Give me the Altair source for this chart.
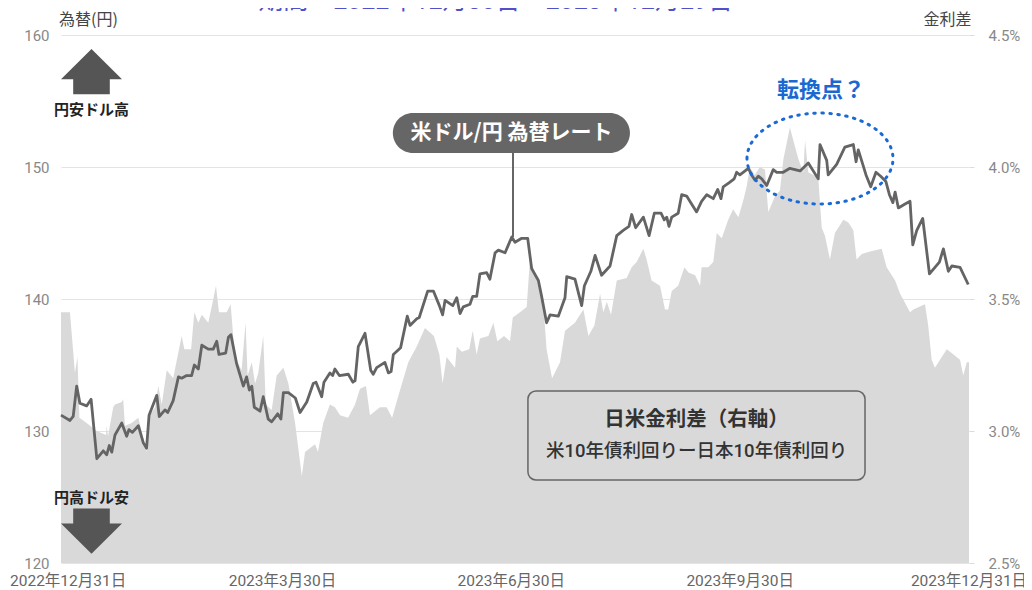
import altair as alt
import pandas as pd

# ---------------- data ----------------
# USD/JPY rate: days after 2022-12-31 and yen values
fx_days = [0, 3.6, 4.9, 6.3, 7.6, 10.3, 12.1, 14.4, 17.0, 18.4,
           19.4, 20.4, 21.7, 24.4, 26.4, 27.3, 28.7, 31.1, 33.1, 34.4,
           35.4, 38.5, 39.5, 41.8, 42.9, 45.1, 47.2, 48.5, 50.5, 52.5,
           53.6, 55.2, 56.6, 59.2, 61.2, 62.6, 63.5, 66.2, 67.3, 68.3,
           70.6, 73.3, 74.6, 75.7, 76.7, 77.7, 80.0, 81.3, 83.3, 84.7,
           87.1, 88.4, 89.4, 91.4, 94.2, 96.1, 98.8, 101.4, 102.5, 104.8,
           105.7, 108.1, 109.2, 110.1, 111.9, 115.5, 117.3, 118.2, 119.5, 122.2,
           124.5, 125.5, 126.9, 130.2, 131.6, 132.7, 133.6, 136.5, 139.2, 140.3,
           143.0, 144.0, 147.4, 149.7, 152.1, 153.4, 154.4, 157.5, 159.1, 160.4,
           161.7, 164.4, 165.5, 167.1, 168.4, 171.1, 172.4, 174.5, 175.8, 178.5,
           181.2, 182.5, 185.2, 187.6, 189.2, 191.9, 193.2, 195.2, 196.6, 199.9,
           202.6, 203.3, 206.6, 209.3, 210.4, 213.0, 214.7, 217.3, 220.7, 223.4,
           226.0, 228.3, 229.4, 231.0, 234.1, 236.4, 238.5, 241.2, 242.5, 243.5,
           244.4, 245.5, 248.1, 249.5, 251.5, 252.8, 255.5, 257.5, 259.6, 262.2,
           264.0, 265.3, 266.2, 268.5, 270.6, 271.6, 272.9, 276.3, 277.6, 279.0,
           280.3, 281.7, 283.7, 286.3, 287.7, 290.3, 293.0, 297.1, 300.4, 304.4,
           305.1, 307.8, 308.4, 311.8, 315.1, 318.5, 319.6, 320.5, 322.3, 323.6,
           325.5, 327.6, 329.5, 331.6, 333.0, 334.4, 335.3, 336.6, 339.3, 341.3,
           342.4, 344.0, 346.4, 349.1, 353.1, 354.7, 356.7, 358.1, 361.4, 364.7]
fx_rate = [131.2, 130.8, 131.1, 133.4, 132.1, 131.9, 132.4, 127.9, 128.5, 128.2,
           128.9, 128.4, 129.7, 130.6, 129.6, 130.1, 129.9, 130.4, 129.1, 128.7,
           131.2, 132.7, 131.1, 131.6, 131.4, 132.3, 134.1, 134.0, 134.2, 134.2,
           135.0, 134.7, 136.5, 136.2, 136.2, 136.8, 135.8, 135.9, 137.1, 137.3,
           135.1, 133.4, 134.1, 133.1, 133.4, 131.8, 131.5, 132.6, 130.9, 130.7,
           131.3, 130.9, 132.9, 132.9, 132.5, 131.4, 132.2, 133.6, 133.7, 132.6,
           133.7, 134.4, 134.2, 134.7, 134.2, 134.3, 133.7, 133.8, 136.4, 137.4,
           134.6, 134.3, 134.8, 135.2, 134.4, 134.5, 135.8, 136.3, 138.7, 138.0,
           138.5, 138.6, 140.6, 140.6, 139.5, 138.8, 139.9, 139.5, 140.1, 138.9,
           139.4, 139.6, 140.2, 140.2, 141.9, 142.0, 141.5, 143.5, 143.7, 143.5,
           144.7, 144.3, 144.6, 144.6, 142.3, 141.4, 140.2, 138.2, 138.8, 138.7,
           140.1, 141.7, 141.5, 139.5, 141.0, 142.1, 143.3, 141.8, 142.5, 144.8,
           145.2, 145.5, 146.4, 145.4, 146.2, 144.8, 146.5, 146.5, 146.0, 146.2,
           145.5, 146.2, 146.5, 147.9, 147.8, 147.4, 146.6, 147.4, 147.9, 147.6,
           148.3, 147.6, 148.5, 148.8, 149.1, 149.6, 149.4, 149.9, 149.4, 149.0,
           149.3, 149.1, 148.6, 149.8, 149.6, 149.6, 149.9, 149.7, 150.3, 149.1,
           151.7, 150.5, 149.4, 150.2, 151.5, 151.7, 150.4, 151.3, 150.2, 149.4,
           148.5, 149.6, 149.3, 148.9, 147.9, 147.3, 148.1, 146.9, 147.2, 147.4,
           144.1, 145.2, 146.1, 141.9, 142.8, 143.8, 142.1, 142.5, 142.4, 141.1]

# US-Japan 10y yield spread (%): days after 2022-12-31 and values
spread_days = [0, 3.6, 5.6, 6.6, 7.4, 10.3, 14.4, 18.1, 18.4, 18.9,
               21.0, 21.7, 24.4, 25.0, 25.7, 28.4, 31.1, 33.1, 34.4, 35.1,
               37.8, 39.1, 40.5, 42.5, 45.1, 48.5, 49.6, 52.3, 53.6, 55.2,
               56.6, 59.2, 61.0, 62.3, 63.5, 66.6, 68.2, 69.9, 72.6, 74.2,
               75.0, 76.7, 78.0, 79.3, 81.3, 82.3, 84.7, 86.7, 89.4, 91.4,
               94.1, 96.8, 98.1, 102.1, 103.3, 105.4, 108.1, 110.1, 112.2, 115.4,
               118.2, 120.2, 122.6, 124.2, 128.2, 130.9, 133.1, 135.5, 139.6, 143.0,
               146.3, 149.9, 152.1, 153.4, 155.0, 158.4, 159.1, 161.1, 164.1, 165.5,
               167.1, 168.4, 171.8, 173.8, 175.4, 178.1, 180.5, 181.6, 184.5, 187.2,
               188.5, 191.9, 193.9, 195.2, 197.4, 200.6, 202.6, 206.6, 207.9, 210.0,
               212.0, 214.4, 216.7, 218.0, 219.4, 221.1, 223.4, 227.4, 229.4, 231.4,
               234.1, 235.4, 237.4, 240.8, 242.8, 244.1, 245.5, 248.1, 250.6, 252.2,
               254.9, 256.9, 257.5, 260.2, 262.2, 263.6, 265.6, 268.2, 270.2, 272.3,
               274.3, 275.6, 276.9, 278.9, 280.9, 283.0, 284.3, 285.7, 287.0, 289.0,
               290.4, 291.7, 293.0, 294.4, 296.4, 298.4, 299.1, 300.4, 304.4, 305.8,
               307.1, 309.1, 311.1, 314.5, 316.5, 318.5, 319.8, 321.9, 325.2, 329.9,
               331.9, 335.3, 337.3, 341.3, 342.6, 347.3, 348.6, 350.0, 351.3, 354.7,
               356.1, 361.4, 362.7, 364.1, 365.0]
spread_pct = [3.45, 3.45, 3.22, 3.28, 3.05, 3.03, 3.00, 2.985, 3.02, 2.98,
              3.09, 3.10, 3.11, 3.12, 3.02, 3.03, 3.05, 2.97, 2.92, 3.05,
              3.09, 3.17, 3.10, 3.23, 3.20, 3.36, 3.31, 3.31, 3.45, 3.41,
              3.44, 3.41, 3.49, 3.55, 3.45, 3.45, 3.48, 3.28, 3.23, 3.41,
              3.21, 3.26, 3.18, 3.22, 3.36, 3.10, 3.08, 3.21, 3.24, 3.18,
              3.03, 2.83, 2.92, 2.95, 2.92, 3.03, 3.10, 3.09, 3.06, 3.05,
              3.10, 3.16, 3.17, 3.06, 3.09, 3.09, 3.05, 3.13, 3.26, 3.32,
              3.39, 3.36, 3.29, 3.18, 3.28, 3.24, 3.32, 3.30, 3.31, 3.38,
              3.29, 3.35, 3.36, 3.41, 3.34, 3.36, 3.34, 3.43, 3.45, 3.47,
              3.65, 3.57, 3.48, 3.31, 3.20, 3.26, 3.38, 3.41, 3.43, 3.46,
              3.36, 3.40, 3.52, 3.45, 3.49, 3.44, 3.57, 3.58, 3.62, 3.64,
              3.69, 3.65, 3.57, 3.55, 3.46, 3.46, 3.53, 3.55, 3.62, 3.60,
              3.59, 3.55, 3.62, 3.62, 3.64, 3.75, 3.73, 3.80, 3.84, 3.81,
              3.875, 3.925, 4.00, 3.97, 4.00, 3.99, 3.83, 3.86, 3.89, 3.91,
              4.03, 4.09, 4.15, 4.10, 4.03, 3.98, 4.10, 3.98, 3.96, 3.77,
              3.74, 3.65, 3.75, 3.80, 3.79, 3.76, 3.65, 3.67, 3.68, 3.69,
              3.62, 3.57, 3.52, 3.45, 3.46, 3.48, 3.40, 3.27, 3.24, 3.29,
              3.31, 3.27, 3.21, 3.26, 3.26]

x_tick_dates = ["2022-12-31", "2023-03-30", "2023-06-30", "2023-09-30", "2023-12-31"]
yen_ticks = [120, 130, 140, 150, 160]
pct_ticks = [2.5, 3.0, 3.5, 4.0, 4.5]

title_text = "期間：2022年12月30日～2023年12月29日"
fx_label = "米ドル/円 為替レート"
turn_label = "転換点？"
weak_yen = "円安ドル高"
strong_yen = "円高ドル安"
box_line1 = "日米金利差（右軸）"
box_line2 = "米10年債利回りー日本10年債利回り"

# ---------------- helpers ----------------
START = pd.Timestamp("2022-12-31", tz="UTC")


def iso(days):
    return [(START + pd.Timedelta(days=float(d))).strftime("%Y-%m-%dT%H:%M:%SZ") for d in days]


def ms(s):
    return int(pd.Timestamp(s, tz="UTC").value // 10**6)


def jp_date(s):
    t = pd.Timestamp(s)
    return f"{t.year}年{t.month}月{t.day}日"


FONT = "Roboto, 'Noto Sans CJK JP', sans-serif"
JP = "'Noto Sans CJK JP', sans-serif"

fx_df = pd.DataFrame({"date": iso(fx_days), "rate": fx_rate})
sp_df = pd.DataFrame({"date": iso(spread_days), "pct": spread_pct})

x_scale = alt.Scale(type="utc", domain=[ms(x_tick_dates[0]), ms(x_tick_dates[-1])], nice=False)
yen_scale = alt.Scale(domain=[120, 160], nice=False, zero=False)
pct_scale = alt.Scale(domain=[2.5, 4.5], nice=False, zero=False)

x_axis = alt.Axis(
    values=[ms(d) for d in x_tick_dates],
    labels=False, grid=False, domain=False, ticks=True, tickSize=5, tickColor="#d6d6d6",
    title=None,
)
left_axis = alt.Axis(
    orient="left", values=yen_ticks, grid=True, gridColor="#e4e4e4", gridWidth=1,
    domain=False, ticks=False, labelPadding=12,
    labelFontSize=15, labelColor="#888888", labelFont=FONT,
    title="為替(円)", titleAngle=0, titleX=27, titleY=-16, titleAlign="center",
    titleBaseline="middle", titleFontSize=16, titleFontWeight="normal",
    titleColor="#444444", titleFont=JP,
)
right_axis = alt.Axis(
    orient="right", values=pct_ticks,
    labelExpr="format(datum.value, '.1f') + '%'",
    grid=False, domain=False, ticks=True, tickSize=5, tickColor="#dcdcdc",
    labelPadding=14, labelFontSize=15, labelColor="#888888", labelFont=FONT,
    title="金利差", titleAngle=0, titleX=-22, titleY=-16, titleAlign="center",
    titleBaseline="middle", titleFontSize=16, titleFontWeight="normal",
    titleColor="#444444", titleFont=JP,
)


def X(field):
    return alt.X(field, type="temporal", scale=x_scale, axis=None)


def Y(field):
    return alt.Y(field, type="quantitative", scale=yen_scale, axis=None)


# ---------------- layers ----------------
area = alt.Chart(sp_df).mark_area(color="#d9d9d9", opacity=1).encode(
    x=alt.X("date:T", scale=x_scale, axis=x_axis),
    y=alt.Y("pct:Q", scale=pct_scale, axis=right_axis),
    y2=alt.datum(2.5),
)

line = alt.Chart(fx_df).mark_line(color="#646464", strokeWidth=2.8, strokeJoin="round").encode(
    x=X("date"),
    y=alt.Y("rate:Q", scale=yen_scale, axis=left_axis),
)

# date labels under the x axis (from the tick list)
xlab_df = pd.DataFrame({"date": iso([(pd.Timestamp(d, tz="UTC") - START).days for d in x_tick_dates]),
                        "y": [119.17] * len(x_tick_dates),
                        "t": [jp_date(d) for d in x_tick_dates]})
xlab_first = alt.Chart(xlab_df.iloc[:1]).mark_text(
    align="left", dx=-51, baseline="top", fontSize=15.5, font=FONT, color="#666666").encode(
    x=X("date"), y=Y("y"), text="t:N")
xlab_rest = alt.Chart(xlab_df.iloc[1:]).mark_text(
    align="center", baseline="top", fontSize=15.5, font=FONT, color="#666666").encode(
    x=X("date"), y=Y("y"), text="t:N")

# callout for the FX line
callout_box = alt.Chart(pd.DataFrame({"d0": iso([133.4]), "d1": iso([228.7]),
                                      "y0": [154.09], "y1": [151.06]})).mark_rect(
    color="#666666", cornerRadius=20).encode(x=X("d0"), x2="d1:T", y=Y("y0"), y2="y1:Q")
callout_rule = alt.Chart(pd.DataFrame({"d": iso([181.7]), "y0": [151.06], "y1": [144.7]})).mark_rule(
    color="#666666", strokeWidth=2).encode(x=X("d"), y=Y("y0"), y2="y1:Q")
callout_text = alt.Chart(pd.DataFrame({"d": iso([181.1]), "y": [152.58], "t": [fx_label]})).mark_text(
    color="white", fontSize=21, fontWeight="bold", font=JP, baseline="middle").encode(
    x=X("d"), y=Y("y"), text="t:N")

# arrows
UP = "M0,-0.74L1,0.25L0.6,0.25L0.6,0.74L-0.6,0.74L-0.6,0.25L-1,0.25Z"
DOWN = "M0,0.74L1,-0.25L0.6,-0.25L0.6,-0.74L-0.6,-0.74L-0.6,-0.25L-1,-0.25Z"
up_arrow = alt.Chart(pd.DataFrame({"d": iso([12.26]), "y": [157.23]})).mark_point(
    shape=UP, size=3721, filled=True, color="#555555", opacity=1, strokeWidth=0).encode(
    x=X("d"), y=Y("y"))
down_arrow = alt.Chart(pd.DataFrame({"d": iso([12.26]), "y": [122.42]})).mark_point(
    shape=DOWN, size=3721, filled=True, color="#555555", opacity=1, strokeWidth=0).encode(
    x=X("d"), y=Y("y"))
arrow_text = alt.Chart(pd.DataFrame({"d": iso([12.26, 12.26]), "y": [154.32, 124.96],
                                     "t": [weak_yen, strong_yen]})).mark_text(
    color="#222222", fontSize=15, fontWeight="bold", font=JP, baseline="middle").encode(
    x=X("d"), y=Y("y"), text="t:N")

# turning point ellipse + label
ELLIPSE = ("M-1,0C-1,-0.344 -0.552,-0.623 0,-0.623C0.552,-0.623 1,-0.344 1,0"
           "C1,0.344 0.552,0.623 0,0.623C-0.552,0.623 -1,0.344 -1,0Z")
ellipse = alt.Chart(pd.DataFrame({"d": iso([305.1]), "y": [150.64]})).mark_point(
    shape=ELLIPSE, size=146 * 146, filled=False, color="#1a6ad6", opacity=1,
    strokeWidth=3, strokeDash=[1.5, 6.5], strokeCap="round").encode(x=X("d"), y=Y("y"))
turn_text = alt.Chart(pd.DataFrame({"d": iso([305.5]), "y": [155.83], "t": [turn_label]})).mark_text(
    color="#1a68d1", fontSize=22, fontWeight="bold", font=JP, baseline="middle").encode(
    x=X("d"), y=Y("y"), text="t:N")

# spread legend box
info_box = alt.Chart(pd.DataFrame({"d0": iso([187.7]), "d1": iso([323.2]),
                                   "y0": [133.03], "y1": [126.29]})).mark_rect(
    filled=False, stroke="#666666", strokeWidth=1.5, cornerRadius=8).encode(
    x=X("d0"), x2="d1:T", y=Y("y0"), y2="y1:Q")
info_t1 = alt.Chart(pd.DataFrame({"d": iso([255.5]), "y": [130.83], "t": [box_line1]})).mark_text(
    color="#333333", fontSize=20.5, fontWeight="bold", font=JP, baseline="middle").encode(
    x=X("d"), y=Y("y"), text="t:N")
info_t2 = alt.Chart(pd.DataFrame({"d": iso([255.5]), "y": [128.48], "t": [box_line2]})).mark_text(
    color="#333333", fontSize=18.5, fontWeight=500, font=FONT, baseline="middle").encode(
    x=X("d"), y=Y("y"), text="t:N")

# partially visible heading at the very top
heading = alt.Chart(pd.DataFrame({"d": iso([174.7]), "y": [161.97], "t": [title_text]})).mark_text(
    color="#5050c8", fontSize=25, font=FONT, baseline="alphabetic").encode(
    x=X("d"), y=Y("y"), text="t:N")

chart = alt.layer(
    area, line, callout_rule, callout_box, callout_text, up_arrow, down_arrow,
    arrow_text, ellipse, turn_text, info_box, info_t1, info_t2, heading,
    xlab_first, xlab_rest,
).resolve_scale(y="independent").properties(
    width=908, height=528,
    autosize=alt.AutoSizeParams(type="none"),
    padding={"left": 53, "top": 27, "right": 55, "bottom": 27},
    background="white",
).configure_view(stroke=None)

chart.save("out.html", embed_options={"renderer": "svg", "actions": False})
